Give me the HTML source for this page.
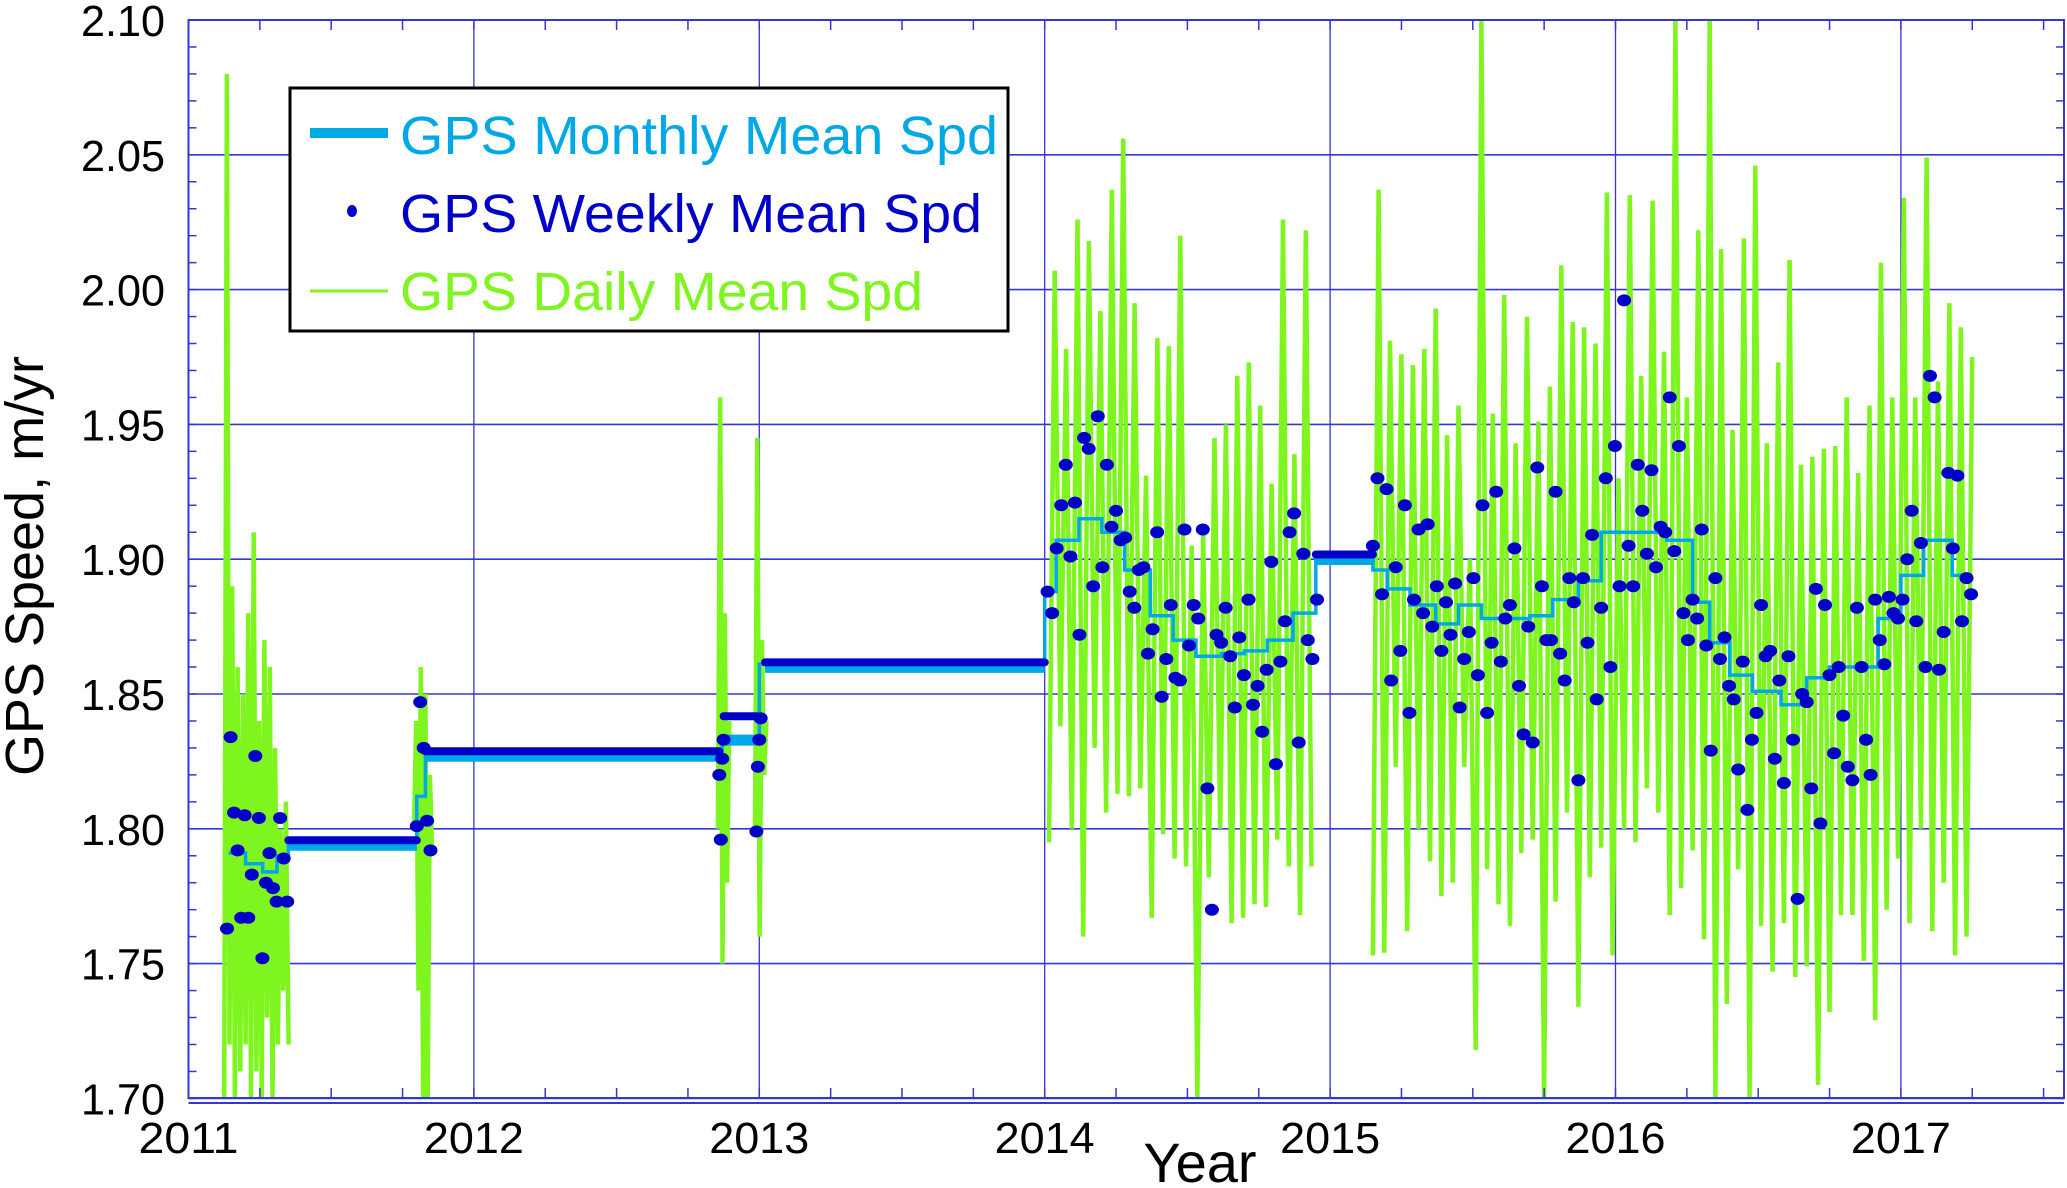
<!DOCTYPE html>
<html><head><meta charset="utf-8"><style>
html,body{margin:0;padding:0;background:#fff;}
svg{display:block;font-family:"Liberation Sans",Arial,sans-serif;}
</style></head><body>
<svg id="chart" width="2067" height="1188" viewBox="0 0 2067 1188" xmlns="http://www.w3.org/2000/svg">
<g id="grid"></g>
<g id="daily"></g>
<g id="monthly"></g>
<g id="weekly"></g>
<g id="axes"></g>
<g id="legend">
  <rect x="290" y="88" width="718" height="243" fill="#fff" stroke="#000" stroke-width="3"/>
  <line x1="310" y1="133" x2="388" y2="133" stroke="#00a8e6" stroke-width="10"/>
  <text x="400" y="154" font-size="54" fill="#00a8e6" textLength="598" lengthAdjust="spacingAndGlyphs">GPS Monthly Mean Spd</text>
  <ellipse cx="352" cy="211" rx="5" ry="6" fill="#0000c8"/>
  <text x="400" y="232" font-size="54" fill="#0000c8" textLength="582" lengthAdjust="spacingAndGlyphs">GPS Weekly Mean Spd</text>
  <line x1="310" y1="291" x2="388" y2="291" stroke="#7ff51f" stroke-width="3"/>
  <text x="400" y="310" font-size="54" fill="#7ff51f" textLength="523" lengthAdjust="spacingAndGlyphs">GPS Daily Mean Spd</text>
</g>
<text x="1200" y="1182" font-size="56" text-anchor="middle">Year</text>
<text transform="translate(43,566) rotate(-90)" font-size="54" text-anchor="middle" textLength="420" lengthAdjust="spacingAndGlyphs">GPS Speed, m/yr</text>
</svg>
<script>
const yearTicks = [2011,2012,2013,2014,2015,2016,2017];
const speedTicks = [1.70,1.75,1.80,1.85,1.90,1.95,2.00,2.05,2.10];
// daily series segments: start year, step (yr), values
const dailyStarts = [2011.125, 2011.79, 2012.855, 2012.985, 2014.015, 2015.15];
const dailyStep = [0.0094, 0.008, 0.008, 0.008, 0.02, 0.02];
const daily1 = [1.70,2.08,1.72,1.89,1.70,1.86,1.71,1.85,1.72,1.88,1.70,1.91,1.71,1.84,1.70,1.87,1.73,1.86,1.70,1.83,1.72,1.80,1.74,1.81,1.72];
const daily2 = [1.80,1.84,1.74,1.86,1.70,1.85,1.70,1.82,1.79];
const daily3 = [1.80,1.96,1.75,1.88,1.78,1.84];
const daily4 = [1.80,1.945,1.76,1.87,1.82,1.84];
const daily5 = [1.795,2.007,1.838,1.978,1.80,2.026,1.76,2.018,1.83,1.992,1.806,2.037,1.813,2.056,1.812,1.995,1.815,1.931,1.767,1.982,1.798,1.979,1.789,2.02,1.786,1.905,1.70,1.91,1.782,1.945,1.80,1.95,1.765,1.968,1.767,1.973,1.772,1.957,1.771,1.928,1.796,2.026,1.786,1.939,1.768,2.022,1.786];
const daily6 = [1.753,2.037,1.754,1.981,1.823,1.976,1.762,1.972,1.80,1.978,1.788,1.993,1.775,1.946,1.78,1.957,1.823,1.90,1.718,2.10,1.785,1.954,1.772,1.998,1.764,1.943,1.791,1.99,1.796,1.951,1.70,1.964,1.773,2.009,1.806,1.988,1.734,1.986,1.782,1.98,1.793,2.036,1.753,
1.93,1.80,2.035,1.795,1.968,1.815,2.033,1.806,1.977,1.768,2.10,1.778,1.96,1.792,2.022,1.759,2.10,1.70,2.015,1.735,1.948,1.785,2.019,1.70,2.046,1.764,1.943,1.747,1.973,1.765,2.011,1.745,1.935,1.749,1.938,1.705,1.941,1.732,1.942,1.768,1.960,1.768,1.932,1.751,1.957,1.729,2.010,1.77,1.96,1.789,2.034,1.765,1.96,1.80,2.049,1.762,1.966,1.78,1.995,1.753,1.986,1.76,1.975];
const dailySeries = [daily1,daily2,daily3,daily4,daily5,daily6];
// weekly series segments
const weeklyStarts = [2011.135, 2011.80, 2012.86, 2012.99, 2014.01, 2015.15];
const weeklyStep = [0.0124, 0.012, 0.005, 0.005, 0.016, 0.016];
const weekly1 = [1.763,1.834,1.806,1.792,1.767,1.805,1.767,1.783,1.827,1.804,1.752,1.780,1.791,1.778,1.773,1.804,1.789,1.773];
const weekly2 = [1.801,1.847,1.830,1.803,1.792];
const weekly3 = [1.820,1.796,1.826,1.833];
const weekly4 = [1.799,1.823,1.833,1.841];
const weekly5 = [1.888,1.880,1.904,1.920,1.935,1.901,1.921,1.872,1.945,1.941,1.890,1.953,1.897,1.935,1.912,1.918,1.907,1.908,1.888,1.882,1.896,1.897,1.865,1.874,1.910,1.849,1.863,1.883,1.856,1.855,1.911,1.868,1.883,1.878,1.911,1.815,1.770,1.872,1.869,1.882,1.864,1.845,1.871,1.857,1.885,1.846,1.853,1.836,1.859,1.899,1.824,1.862,1.877,1.910,1.917,1.832,1.902,1.870,1.863,1.885];
const weekly6 = [1.905,1.930,1.887,1.926,1.855,1.897,1.866,1.920,1.843,1.885,1.911,1.880,1.913,1.875,1.890,1.866,1.884,1.872,1.891,1.845,1.863,1.873,1.893,1.857,1.920,1.843,1.869,1.925,1.862,1.878,1.883,1.904,1.853,1.835,1.875,1.832,1.934,1.890,1.870,1.870,1.925,1.865,1.855,1.893,1.884,1.818,1.893,1.869,1.909,1.848,1.882,1.930,1.860,
1.942,1.890,1.996,1.905,1.890,1.935,1.918,1.902,1.933,1.897,1.912,1.910,1.960,1.903,1.942,1.880,1.870,1.885,1.878,1.911,1.868,1.829,1.893,1.863,1.871,1.853,1.848,1.822,1.862,1.807,1.833,1.843,1.883,1.864,1.866,1.826,1.855,1.817,1.864,1.833,1.774,1.850,1.847,1.815,1.889,1.802,1.883,1.857,1.828,1.860,1.842,1.823,1.818,1.882,1.860,1.833,1.820,1.885,1.870,1.861,1.886,1.880,1.878,
1.885,1.900,1.918,1.877,1.906,1.860,1.968,1.960,1.859,1.873,1.932,1.904,1.931,1.877,1.893,1.887];
const weeklySeries = [weekly1,weekly2,weekly3,weekly4,weekly5,weekly6];
// monthly step series
const monthStart = [2011.14,2011.20,2011.26,2011.31,2011.35,2011.80,2011.83,2012.87,2013.0,2014.0,2014.04,2014.12,2014.20,2014.28,2014.37,2014.45,2014.53,2014.62,2014.70,2014.78,2014.87,2014.95,2015.15,2015.20,2015.28,2015.37,2015.45,2015.53,2015.62,2015.70,2015.78,2015.87,2015.95,2016.18,2016.27,2016.33,2016.40,2016.48,2016.58,2016.67,2016.75,2016.92,2017.0,2017.08,2017.18];
const monthVal = [1.791,1.787,1.784,1.790,1.795,1.812,1.828,1.834,1.861,1.888,1.907,1.915,1.910,1.896,1.879,1.870,1.864,1.865,1.866,1.870,1.880,1.901,1.896,1.889,1.883,1.876,1.883,1.878,1.878,1.879,1.885,1.892,1.910,1.907,1.884,1.869,1.857,1.851,1.846,1.856,1.860,1.878,1.894,1.907,1.894];
const monthEnd = 2017.25;
// plateau periods (thick)
const plateauStart = [2011.35,2011.83,2012.875,2013.02,2014.95];
const plateauEnd = [2011.80,2012.86,2012.99,2014.0,2015.15];
const plateauMonthly = [1.795,1.828,1.834,1.861,1.901];
const plateauWeekly = [1.795,1.828,1.841,1.861,1.901];

const X0=188.5, X1=2064, YT=20, YB=1098;
function X(yr){return X0+(yr-2011)*285.4;}
function Y(v){return YT+(2.10-v)*2696;}
const NS="http://www.w3.org/2000/svg";
function mk(tag,attrs,parent){const e=document.createElementNS(NS,tag);for(const k in attrs)e.setAttribute(k,attrs[k]);parent.appendChild(e);return e;}
const grid=document.getElementById('grid'), axes=document.getElementById('axes');
speedTicks.forEach(v=>{
  const l=mk('line',{x1:X0,x2:X1,y1:Y(v),y2:Y(v),stroke:'#3535d8','stroke-width':1.6},grid);
  
  
  const t=mk('text',{x:165,y:Y(v)+16,'font-size':44,'text-anchor':'end',textLength:84,lengthAdjust:'spacingAndGlyphs'},axes);
  t.textContent=v.toFixed(2);
  
  
});
yearTicks.forEach(yr=>{
  const l=mk('line',{x1:X(yr),x2:X(yr),y1:YT,y2:YB,stroke:'#3535d8','stroke-width':1.3},grid);
  
  
  const t=mk('text',{x:X(yr),y:1153,'font-size':44,'text-anchor':'middle',textLength:100,lengthAdjust:'spacingAndGlyphs'},axes);
  t.textContent=String(yr);
  
  
});
for(let yr=2011;yr<=2017.5;yr+=0.25){
  mk('line',{x1:X(yr),x2:X(yr),y1:YT,y2:YT+10,stroke:'#3535d8','stroke-width':1.5},axes);
  mk('line',{x1:X(yr),x2:X(yr),y1:YB,y2:YB-10,stroke:'#3535d8','stroke-width':1.5},axes);
}
for(let i=0;i<=40;i++){const y=Y(1.70+i*0.01);
  mk('line',{x1:X0,x2:X0+8,y1:y,y2:y,stroke:'#3535d8','stroke-width':1.5},axes);
  mk('line',{x1:X1,x2:X1-8,y1:y,y2:y,stroke:'#3535d8','stroke-width':1.5},axes);
}
const frame=mk('rect',{x:X0,y:YT,width:X1-X0,height:YB-YT,fill:'none',stroke:'#3535d8','stroke-width':2},axes);


mk('line',{x1:X0,x2:X1,y1:YB+5,y2:YB+5,stroke:'#3535d8','stroke-width':2},axes);

// daily
const dg=document.getElementById('daily');
dailySeries.forEach((vals,s)=>{
  const pts=vals.map((v,i)=>X(dailyStarts[s]+i*dailyStep[s]).toFixed(1)+','+Y(Math.max(1.70,Math.min(2.10,v))).toFixed(1)).join(' ');
  const p=mk('polyline',{points:pts,fill:'none',stroke:'#7ff51f','stroke-width':4.5,'stroke-linejoin':'miter'},dg);
  
  
});
// monthly thin step
const mg=document.getElementById('monthly');
let d='';
monthStart.forEach((s,i)=>{
  const e=i<monthStart.length-1?monthStart[i+1]:monthEnd;
  d+=(i===0?'M':'L')+X(s).toFixed(1)+','+Y(monthVal[i]).toFixed(1)+' L'+X(e).toFixed(1)+','+Y(monthVal[i]).toFixed(1)+' ';
});
const mp=mk('path',{d:d,fill:'none',stroke:'#00a8e6','stroke-width':3.5},mg);


plateauStart.forEach((s,i)=>{
  const a=mk('line',{x1:X(s),x2:X(plateauEnd[i]),y1:Y(plateauMonthly[i])+3,y2:Y(plateauMonthly[i])+3,stroke:'#00a8e6','stroke-width':11},mg);
  
  
  const b=mk('line',{x1:X(s),x2:X(plateauEnd[i]),y1:Y(plateauWeekly[i])-2,y2:Y(plateauWeekly[i])-2,stroke:'#0000c8','stroke-width':8,'stroke-linecap':'round'},mg);
  
  
});
// weekly dots
const wg=document.getElementById('weekly');
weeklySeries.forEach((vals,s)=>{
  vals.forEach((v,i)=>{
    const c=mk('ellipse',{cx:X(weeklyStarts[s]+i*weeklyStep[s]).toFixed(1),cy:Y(v).toFixed(1),rx:7,ry:6,fill:'#0000c8'},wg);
    
    
  });
});
</script>
</body></html>
